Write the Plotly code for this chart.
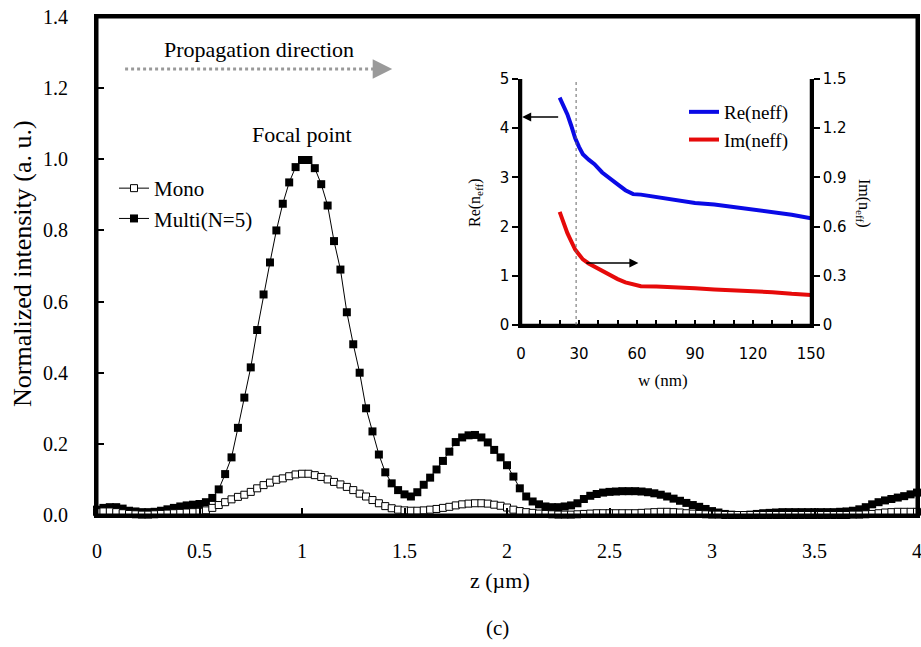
import numpy as np
import plotly.graph_objects as go

# Axial positions along the lens (µm), uniform sampling
z_um = np.linspace(0.0, 4.0, 129)

# Normalized intensity, multilayer lens (N=5)
multi = [
    0.015, 0.020, 0.022, 0.022, 0.018, 0.012, 0.010, 0.008, 0.008, 0.009,
    0.012, 0.016, 0.020, 0.024, 0.027, 0.029, 0.031, 0.036, 0.048, 0.072,
    0.115, 0.162, 0.245, 0.330, 0.415, 0.520, 0.620, 0.710, 0.800, 0.875,
    0.935, 0.978, 0.998, 0.998, 0.975, 0.930, 0.870, 0.770, 0.690, 0.570,
    0.480, 0.400, 0.300, 0.235, 0.170, 0.120, 0.089, 0.070, 0.058, 0.052,
    0.064, 0.085, 0.105, 0.128, 0.152, 0.178, 0.205, 0.218, 0.224, 0.225,
    0.218, 0.204, 0.183, 0.162, 0.140, 0.108, 0.075, 0.052, 0.038, 0.030,
    0.024, 0.022, 0.022, 0.024, 0.027, 0.033, 0.045, 0.054, 0.059, 0.063,
    0.065, 0.066, 0.067, 0.067, 0.067, 0.066, 0.064, 0.061, 0.057, 0.052,
    0.046, 0.040, 0.034, 0.028, 0.023, 0.017, 0.011, 0.007, 0.003, 0.001,
    0.000, 0.000, 0.001, 0.003, 0.005, 0.006, 0.007, 0.008, 0.008, 0.008,
    0.008, 0.008, 0.008, 0.008, 0.008, 0.008, 0.009, 0.010, 0.012, 0.016,
    0.022, 0.030, 0.036, 0.041, 0.045, 0.049, 0.053, 0.058, 0.063,
]

# Normalized intensity, single-layer lens
mono = [
    0.008, 0.010, 0.010, 0.008, 0.005, 0.003, 0.002, 0.001, 0.001, 0.002,
    0.003, 0.004, 0.005, 0.006, 0.007, 0.008, 0.009, 0.013, 0.020, 0.028,
    0.036, 0.044, 0.051, 0.057, 0.065, 0.075, 0.084, 0.091, 0.099, 0.103,
    0.109, 0.114, 0.116, 0.116, 0.112, 0.107, 0.100, 0.093, 0.086, 0.079,
    0.070, 0.060, 0.052, 0.042, 0.033, 0.025, 0.019, 0.015, 0.013, 0.012,
    0.012, 0.013, 0.015, 0.017, 0.020, 0.023, 0.027, 0.030, 0.032, 0.033,
    0.033, 0.032, 0.029, 0.026, 0.021, 0.015, 0.011, 0.008, 0.006, 0.004,
    0.003, 0.002, 0.001, 0.001, 0.001, 0.002, 0.003, 0.004, 0.005, 0.005,
    0.005, 0.005, 0.005, 0.005, 0.005, 0.006, 0.007, 0.008, 0.009, 0.009,
    0.008, 0.007, 0.005, 0.004, 0.003, 0.002, 0.001, 0.001, 0.000, 0.000,
    0.000, 0.000, 0.000, 0.000, 0.000, 0.000, 0.000, 0.000, 0.000, 0.000,
    0.000, 0.000, 0.000, 0.000, 0.000, 0.000, 0.000, 0.000, 0.001, 0.001,
    0.002, 0.003, 0.005, 0.007, 0.008, 0.009, 0.009, 0.009, 0.009,
]

# Effective index of the slot mode versus slot width
w_nm = [20, 22, 24, 26, 28, 30, 32, 35, 38, 42, 46, 50, 54, 58, 62,
        70, 80, 90, 100, 110, 120, 130, 140, 150]
re_neff = [4.62, 4.45, 4.28, 4.05, 3.80, 3.62, 3.47, 3.36, 3.27, 3.10,
           2.97, 2.86, 2.74, 2.66, 2.65, 2.60, 2.53, 2.48, 2.45, 2.40,
           2.34, 2.29, 2.24, 2.17]
im_neff = [0.69, 0.62, 0.56, 0.51, 0.46, 0.43, 0.40, 0.375, 0.355, 0.33,
           0.305, 0.28, 0.26, 0.245, 0.236, 0.234, 0.232, 0.224, 0.217,
           0.212, 0.205, 0.200, 0.190, 0.183]

z_ticks = [0, 0.5, 1, 1.5, 2, 2.5, 3, 3.5, 4]
z_ticktext = ["0", "0.5", "1", "1.5", "2", "2.5", "3", "3.5", "4"]
w_slot = 28.5  # chosen slot width (dotted marker)

SERIF = "Liberation Serif, Times New Roman, serif"
SANS = "DejaVu Sans"
CLEAR = "rgba(0,0,0,0)"
INK = "#000000"

fig = go.Figure()

fig.add_trace(go.Scatter(
    x=z_um, y=multi, name="Multi(N=5)", mode="lines+markers",
    line=dict(color=INK, width=1),
    marker=dict(symbol="square", size=8, color=INK),
    cliponaxis=False, legend="legend", legendrank=2, legendgroup="b",
))
fig.add_trace(go.Scatter(
    x=z_um, y=mono, name="Mono", mode="lines+markers",
    line=dict(color=INK, width=1),
    marker=dict(symbol="square", size=7, color="white",
                line=dict(color=INK, width=1)),
    cliponaxis=False, legend="legend", legendrank=1, legendgroup="a",
))

fig.add_trace(go.Scatter(
    x=w_nm, y=re_neff, name="Re(neff)", mode="lines",
    line=dict(color="#0a0ae6", width=4),
    xaxis="x2", yaxis="y3", legend="legend2", legendgroup="c",
))
fig.add_trace(go.Scatter(
    x=w_nm, y=im_neff, name="Im(neff)", mode="lines",
    line=dict(color="#e60a0a", width=4),
    xaxis="x2", yaxis="y4", legend="legend2", legendgroup="d",
))

# Empty traces that carry the inward tick marks on overlay axes
for xa, ya in (("x3", "y"), ("x", "y5"), ("x4", "y3")):
    fig.add_trace(go.Scatter(x=[], y=[], xaxis=xa, yaxis=ya,
                             showlegend=False, hoverinfo="skip"))

X0, X1, Y0, Y1 = 97, 917, 17, 515


def px(x):
    return (x - X0) / (X1 - X0)


def py(y):
    return (Y1 - y) / (Y1 - Y0)


tick_font = dict(family=SERIF, size=20, color=INK)
inset_font = dict(family=SANS, size=15, color=INK)
bare = dict(showgrid=False, zeroline=False, automargin=False)

fig.update_layout(
    width=921, height=647,
    margin=dict(l=X0, r=921 - X1, t=Y0, b=647 - Y1, autoexpand=False),
    paper_bgcolor="white", plot_bgcolor="white",
    font=tick_font,
    xaxis=dict(
        domain=[0, 1], range=[0, 4], tickvals=z_ticks, ticktext=z_ticktext,
        ticks="outside", ticklen=16, tickcolor=CLEAR,
        ticklabeloverflow="allow",
        showline=True, linecolor=INK, linewidth=3, mirror=True,
        tickfont=tick_font, **bare,
    ),
    xaxis3=dict(
        overlaying="x", anchor="y", range=[0, 4], tickvals=z_ticks,
        ticks="inside", ticklen=7, tickwidth=2, tickcolor=INK,
        showticklabels=False, showline=False, **bare,
    ),
    yaxis=dict(
        range=[0, 1.4], dtick=0.2, tickformat=".1f",
        ticks="outside", ticklen=22, tickcolor=CLEAR,
        ticklabeloverflow="allow",
        showline=True, linecolor=INK, linewidth=3, mirror=True,
        tickfont=tick_font, **bare,
    ),
    yaxis5=dict(
        overlaying="y", anchor="x", range=[0, 1.4], dtick=0.2,
        ticks="inside", ticklen=7, tickwidth=2, tickcolor=INK,
        showticklabels=False, showline=False, **bare,
    ),
    xaxis2=dict(
        domain=[px(521), px(811)], anchor="y3", range=[0, 150], dtick=30,
        ticks="outside", ticklen=13, tickcolor=CLEAR,
        showline=True, linecolor=INK, linewidth=2.5,
        tickfont=inset_font, **bare,
    ),
    xaxis4=dict(
        overlaying="x2", anchor="y3", range=[0, 150], dtick=10,
        ticks="inside", ticklen=5, tickwidth=2, tickcolor=INK,
        showticklabels=False, showline=False, **bare,
    ),
    yaxis3=dict(
        domain=[py(325), py(79)], anchor="x2", range=[0, 5], dtick=1,
        ticks="outside", ticklen=6, tickwidth=2, tickcolor=INK,
        showline=True, linecolor=INK, linewidth=2.5,
        tickfont=inset_font, **bare,
    ),
    yaxis4=dict(
        domain=[py(325), py(79)], anchor="x2", overlaying="y3", side="right",
        range=[0, 1.5], dtick=0.3,
        ticks="outside", ticklen=6, tickwidth=2, tickcolor=INK,
        showline=True, linecolor=INK, linewidth=2.5,
        tickfont=inset_font, **bare,
    ),
    legend=dict(
        x=px(114), y=py(168), xanchor="left", yanchor="top",
        bgcolor=CLEAR, font=dict(family=SERIF, size=21, color=INK),
        tracegroupgap=0, itemwidth=30, traceorder="grouped",
    ),
    legend2=dict(
        x=px(684), y=py(93), xanchor="left", yanchor="top",
        bgcolor=CLEAR, font=dict(family=SERIF, size=19, color=INK),
        tracegroupgap=0, itemwidth=30, traceorder="grouped",
    ),
)

# Plot frame and inset axis lines
fig.add_shape(type="rect", xref="paper", yref="paper", x0=0, x1=1, y0=0, y1=1,
              line=dict(color=INK, width=3), layer="above")
for (x0, x1, y0, y1) in ((0, 0, 0, 1), (1, 1, 0, 1), (0, 1, 0, 0)):
    fig.add_shape(type="line", xref="x2 domain", yref="y3 domain",
                  x0=x0, x1=x1, y0=y0, y1=y1,
                  line=dict(color=INK, width=2.5), layer="above")

# Propagation direction arrow (dotted gray)
fig.add_shape(type="line", xref="x", yref="y", x0=0.137, x1=1.38,
              y0=1.2535, y1=1.2535,
              line=dict(color="#9a9a9a", width=3, dash="dot"))
fig.add_annotation(x=1.44, y=1.2535, xref="x", yref="y",
                   ax=1.37, ay=1.2535, axref="x", ayref="y",
                   showarrow=True, arrowhead=2, arrowsize=1.3, arrowwidth=3,
                   arrowcolor="#9a9a9a", text="")

# Slot-width marker in the inset
fig.add_shape(type="line", xref="x2", yref="y3", x0=w_slot, x1=w_slot,
              y0=0, y1=5, line=dict(color="#666666", width=1, dash="dot"))

# Axis-pointing arrows in the inset
fig.add_annotation(x=0.6, y=4.23, xref="x2", yref="y3",
                   ax=20, ay=4.23, axref="x2", ayref="y3",
                   showarrow=True, arrowhead=2, arrowsize=1.2, arrowwidth=1.5,
                   arrowcolor=INK, text="")
fig.add_annotation(x=60.7, y=1.26, xref="x2", yref="y3",
                   ax=33, ay=1.26, axref="x2", ayref="y3",
                   showarrow=True, arrowhead=2, arrowsize=1.2, arrowwidth=1.5,
                   arrowcolor=INK, text="")


def serif(size):
    return dict(family=SERIF, size=size, color=INK)


texts = [
    ("Propagation direction", px(259), py(49), 0, serif(22)),
    ("Focal point", px(302), py(135), 0, serif(22)),
    ("z (µm)", px(500), py(580), 0, serif(22)),
    ("(c)", px(497), py(628), 0, serif(21)),
    ("Normalized intensity (a. u.)", px(22), py(264), -90, serif(26)),
    ("w (nm)", px(663), py(380), 0, serif(17)),
    ("Re(n<sub>eff</sub>)", px(475), py(203), -90, serif(16)),
    ("Im(n<sub>eff</sub>)", px(864), py(203), 90, serif(16)),
]
for txt, x, y, ang, fnt in texts:
    fig.add_annotation(text=txt, x=x, y=y, xref="paper", yref="paper",
                       xanchor="center", yanchor="middle", showarrow=False,
                       textangle=ang, font=fnt)

fig.write_html("out.html")
